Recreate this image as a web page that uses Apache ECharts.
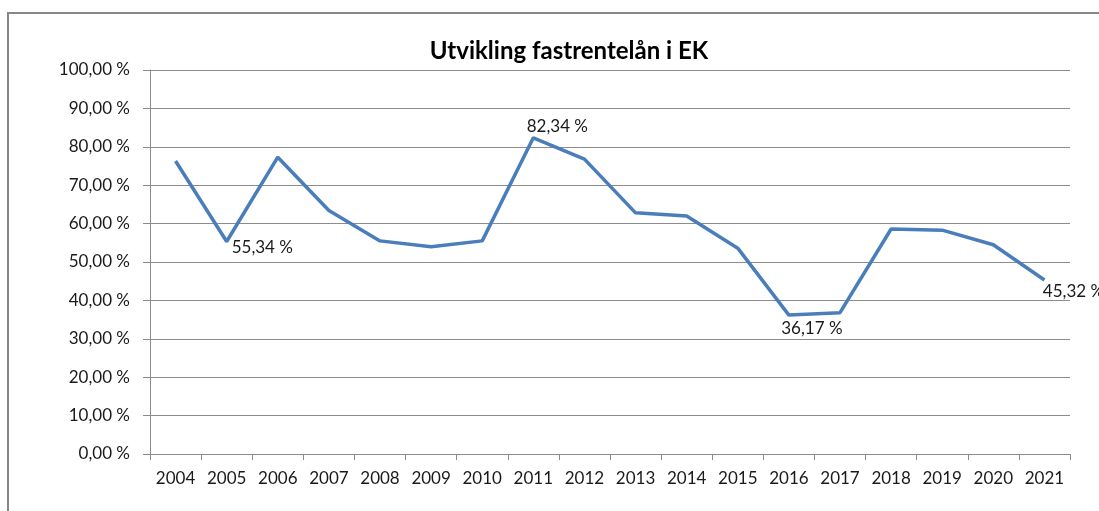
<!DOCTYPE html>
<html>
<head>
<meta charset="utf-8">
<script src="https://cdn.jsdelivr.net/npm/echarts@6/dist/echarts.min.js"></script>
<style>
  html, body { margin: 0; padding: 0; background: #fff; }
  #main { width: 1099px; height: 511px; }
</style>
</head>
<body>
<div id="main"></div>
<script>
var years = ['2004', '2005', '2006', '2007', '2008', '2009', '2010', '2011', '2012',
  '2013', '2014', '2015', '2016', '2017', '2018', '2019', '2020', '2021']
var shares = [76.3, 55.34, 77.3, 63.4, 55.5, 54.0, 55.5, 82.34, 76.8,
  62.8, 62.0, 53.6, 36.17, 36.8, 58.6, 58.3, 54.5, 45.32]
// which points get a value label
var labelled = ['2005', '2011', '2016', '2021']

var yTicks = { min: 0, max: 100, step: 10 }

function pct(v) {
  return v.toFixed(2).replace('.', ',') + ' %'
}

var labelPlace = {
  '2005': { position: 'right', offset: [0, 6] },
  '2011': { position: 'top', offset: [24, 2] },
  '2016': { position: 'bottom', offset: [23, 0] },
  '2021': { position: 'bottom', offset: [29, -2] }
}

var seriesData = shares.map(function (v, i) {
  var item = { value: v }
  var y = years[i]
  if (labelled.indexOf(y) >= 0) {
    item.label = {
      show: true,
      position: labelPlace[y].position,
      offset: labelPlace[y].offset,
      formatter: function (p) { return pct(p.value) }
    }
  }
  return item
})

var chart = echarts.init(document.getElementById('main'))
var font = 'Lato, "Open Sans", sans-serif'

chart.setOption({
  animation: false,
  backgroundColor: '#fff',
  textStyle: { fontFamily: font },
  title: {
    text: 'Utvikling fastrentelån i EK',
    left: 564,
    textAlign: 'center',
    top: 34,
    textStyle: { fontFamily: font, fontSize: 24, fontWeight: 'bold', color: '#000' }
  },
  graphic: [{
    type: 'rect',
    shape: { x: 8, y: 13, width: 1200, height: 600 },
    style: { fill: 'none', stroke: '#878787', lineWidth: 2 },
    silent: true
  }],
  grid: { left: 150, right: 29, top: 70, bottom: 57 },
  xAxis: {
    type: 'category',
    data: years,
    boundaryGap: true,
    axisLine: { lineStyle: { color: '#8c8c8c', width: 1 } },
    axisTick: { show: true, interval: 0, length: 6, lineStyle: { color: '#8c8c8c' } },
    axisLabel: { interval: 0, color: '#1a1a1a', fontSize: 17, margin: 16, fontFamily: font }
  },
  yAxis: {
    type: 'value',
    min: yTicks.min,
    max: yTicks.max,
    interval: yTicks.step,
    axisLine: { show: true, lineStyle: { color: '#8c8c8c', width: 1 } },
    axisTick: { show: true, length: 7, lineStyle: { color: '#8c8c8c' } },
    axisLabel: {
      color: '#1a1a1a', fontSize: 17, margin: 20, fontFamily: font,
      formatter: function (v) { return pct(v) }
    },
    splitLine: { lineStyle: { color: '#8c8c8c', width: 1 } }
  },
  series: [{
    type: 'line',
    data: seriesData,
    symbol: 'circle',
    symbolSize: 0,
    showSymbol: true,
    lineStyle: { color: '#4a7ebb', width: 3.5 },
    itemStyle: { color: '#4a7ebb' },
    label: { color: '#1a1a1a', fontSize: 17, fontFamily: font }
  }]
})
</script>
</body>
</html>
